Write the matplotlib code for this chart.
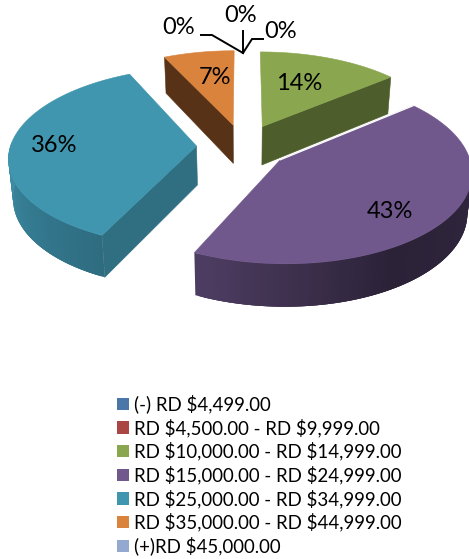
import numpy as np
import matplotlib
matplotlib.use("Agg")
import matplotlib.pyplot as plt
from matplotlib.colors import to_rgb
from matplotlib.patches import Patch, Polygon

categories = [r"(-) RD \$4,499.00", r"RD \$4,500.00 - RD \$9,999.00",
              r"RD \$10,000.00 - RD \$14,999.00", r"RD \$15,000.00 - RD \$24,999.00",
              r"RD \$25,000.00 - RD \$34,999.00", r"RD \$35,000.00 - RD \$44,999.00",
              r"(+)RD \$45,000.00"]
shares = [0, 0, 14, 43, 36, 7, 0]
legend_colors = ["#4A76A8", "#AA4643", "#8AA64E", "#70588D", "#3F96AE", "#D9833C", "#94A9CF"]

# (colour of cut face, rim colours along the arc)
side_colors = {2: "#4D5D2B", 3: "#2E2540", 4: "#306F82", 5: "#583216"}
rim_stops = {3: ([90, 150, 205], ["#30273F", "#2B2238", "#4F3E63"]),
             4: ([205, 235, 270], ["#2F6C80", "#347A90", "#3F8FA8"])}

# labels and leader lines, in pixels of the picture
label_pos = {2: (299, 83), 3: (390, 211), 4: (54, 146), 5: (215, 78)}
zero_labels = [(179, 28), (241, 15), (281, 32)]
leaders = [[(201, 35), (212, 35), (243, 53)],
           [(243, 31), (243, 53)],
           [(263, 39), (252, 39), (243, 53)]]

# projection of the tilted pie
cx, cy = 243, 146
R, S = 186, 88
k = 0.12
explode = 0.25
depth = 39
shrink = 0.98


def top_xy(u, v):
    w = 1 + k * v
    return cx + R * u / w, cy - S * v / w


def bottom_xy(u, v):
    x, y = top_xy(u, v)
    w = 1 + k * v
    return cx + (x - cx) * shrink, cy + (y - cy) * shrink + depth / w


def unit(deg):
    a = np.radians(deg)
    return np.sin(a), np.cos(a)


plt.rcParams["font.family"] = ["Lato", "DejaVu Sans"]

fig = plt.figure(figsize=(4.69, 5.59), dpi=100)
ax = fig.add_axes([0, 0, 1, 1])
ax.set_xlim(0, 469)
ax.set_ylim(559, 0)
ax.axis("off")

edges = np.concatenate([[0], np.cumsum(shares)]) / sum(shares) * 360
slices = {}
for i, v in enumerate(shares):
    if v > 0:
        slices[i] = (edges[i], edges[i + 1])

# back slices first
for i in [5, 2, 4, 3]:
    a0, a1 = slices[i]
    du, dv = unit((a0 + a1) / 2)
    ou, ov = explode * du, explode * dv
    angs = np.linspace(a0, a1, 120)
    arc = [(ou + unit(a)[0], ov + unit(a)[1]) for a in angs]
    apex = (ou, ov)

    # cut faces that look at the viewer
    for ang, visible in ((a0, np.sin(np.radians(a0)) < -1e-6), (a1, np.sin(np.radians(a1)) > 1e-6)):
        if visible:
            rim = (ou + unit(ang)[0], ov + unit(ang)[1])
            pts = []
            for s in np.linspace(0, 1, 12):
                pts.append(top_xy(apex[0] + s * (rim[0] - apex[0]), apex[1] + s * (rim[1] - apex[1])))
            for s in np.linspace(1, 0, 12):
                pts.append(bottom_xy(apex[0] + s * (rim[0] - apex[0]), apex[1] + s * (rim[1] - apex[1])))
            ax.add_patch(Polygon(pts, closed=True, fc=side_colors[i], ec=side_colors[i], lw=0.4))

    # outer rim, split in small strips for the shading; strips overlap to hide seams
    if i in rim_stops:
        stops, cols = rim_stops[i]
        rgb = np.array([to_rgb(c) for c in cols])
        for j in range(len(angs) - 3):
            a = (angs[j] + angs[j + 1]) / 2
            if not 90 <= a <= 270:
                continue
            col = [np.interp(a, stops, rgb[:, n]) for n in range(3)]
            pts = [top_xy(*arc[m]) for m in (j, j + 1, j + 2, j + 3)]
            pts += [bottom_xy(*arc[m]) for m in (j + 3, j + 2, j + 1, j)]
            ax.add_patch(Polygon(pts, closed=True, fc=col, ec="none"))

    # top face
    outline = [top_xy(*apex)] + [top_xy(*p) for p in arc]
    ax.add_patch(Polygon(outline, closed=True, fc=legend_colors[i], ec=legend_colors[i], lw=0.4))

    # thin light edge along the cut, seen where purple meets green
    if i == 3:
        rim = arc[0]
        ss = np.linspace(0, 1, 12)
        line = [top_xy(apex[0] + s * (rim[0] - apex[0]), apex[1] + s * (rim[1] - apex[1])) for s in ss]
        ax.plot([p[0] for p in line], [p[1] for p in line], color="white", lw=0.9)

for i, (x, y) in label_pos.items():
    ax.text(x, y, f"{shares[i]}%", fontsize=17, color="black", ha="center", va="center")

zero_idx = [i for i, v in enumerate(shares) if v == 0]
for i, (x, y) in zip(zero_idx, zero_labels):
    ax.text(x, y, f"{shares[i]}%", fontsize=17, color="black", ha="center", va="center")

for line in leaders:
    ax.plot([p[0] for p in line], [p[1] for p in line], color="black", lw=1.4, solid_joinstyle="miter")

handles = [Patch(fc=c, ec="none") for c in legend_colors]
ax.legend(handles, categories, loc="upper left", bbox_to_anchor=(117, 394.5),
          bbox_transform=ax.transData, frameon=False, fontsize=13.45,
          handlelength=0.64, handleheight=0.64, handletextpad=0.27,
          labelspacing=0.27, borderpad=0, borderaxespad=0)

fig.savefig("out.png", dpi=100)
